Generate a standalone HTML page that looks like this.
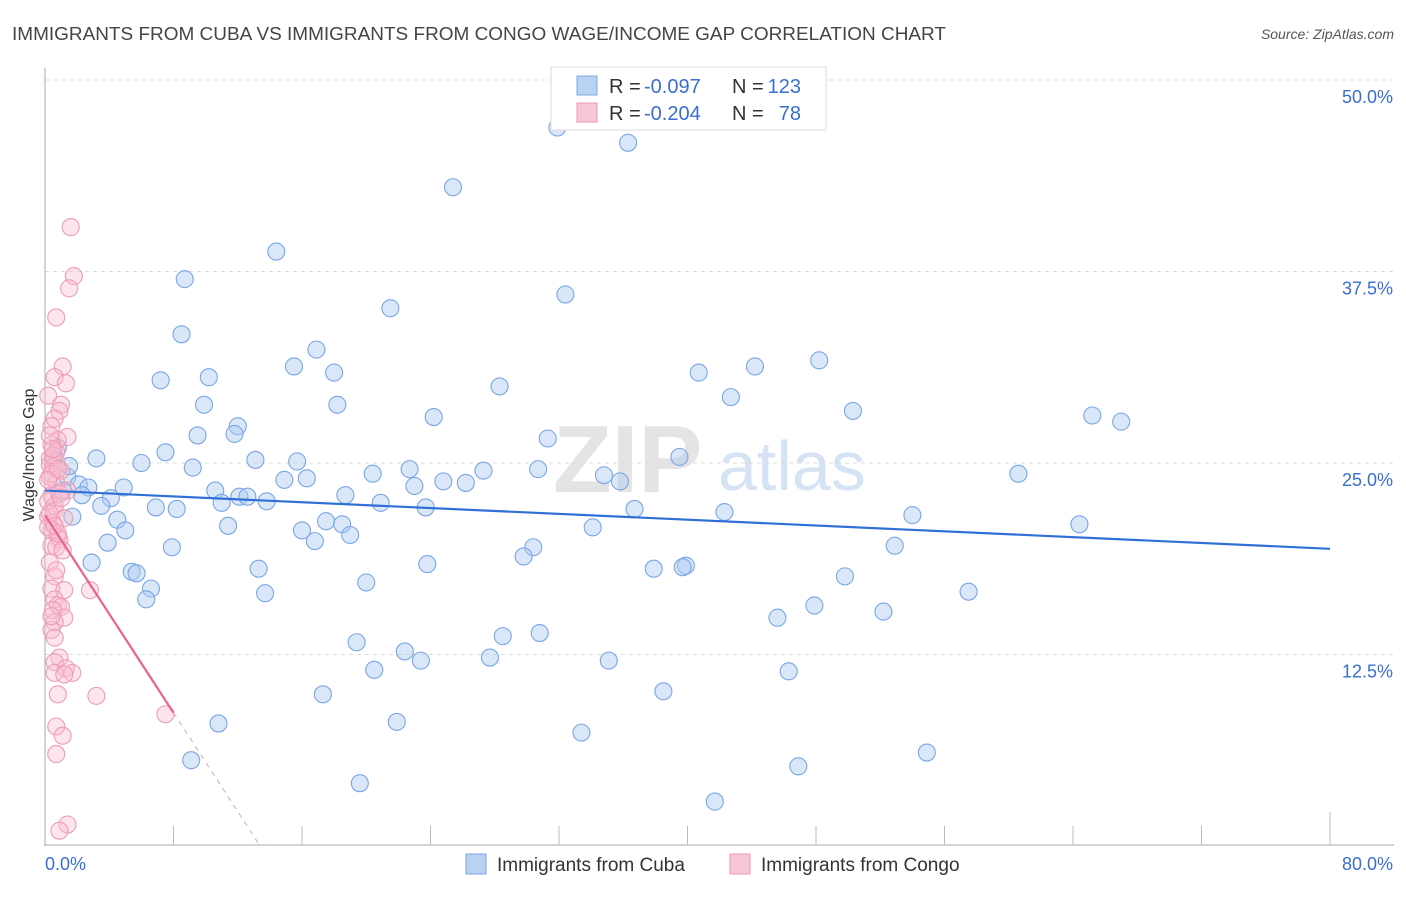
<!DOCTYPE html>
<html><head><meta charset="utf-8"><style>
body{margin:0;background:#fff;font-family:"Liberation Sans",sans-serif}
svg text{font-family:"Liberation Sans",sans-serif}
</style></head><body>
<svg id="c" width="1406" height="892" xmlns="http://www.w3.org/2000/svg">
<text x="12" y="40" font-size="18" fill="#444" textLength="934" lengthAdjust="spacingAndGlyphs">IMMIGRANTS FROM CUBA VS IMMIGRANTS FROM CONGO WAGE/INCOME GAP CORRELATION CHART</text>
<text x="1394" y="39" font-size="14" fill="#555" font-style="italic" text-anchor="end">Source: ZipAtlas.com</text>
<g>
<text x="553" y="492" font-size="96" fill="#e4e4e4" font-family="Liberation Serif" font-weight="bold">ZIP</text>
<text x="718" y="490" font-size="70" fill="#d6e3f5">atlas</text>
</g>
<g id="grid"></g>
<g id="axes"></g>
<g id="pts"></g>
<g id="trend"></g>
<text transform="translate(34,455) rotate(-90)" font-size="16" fill="#333" text-anchor="middle">Wage/Income Gap</text>
<g>
<rect x="551" y="67" width="275" height="63" fill="#fff" stroke="#ddd"/>
<rect x="577" y="76" width="20" height="19" fill="#b8d2f3" stroke="#7ea8e4"/>
<rect x="577" y="103" width="20" height="19" fill="#f8c6d6" stroke="#ea9ab4"/>
<text x="609" y="93" font-size="20" fill="#333">R =</text>
<text x="644" y="93" font-size="20" fill="#3a6fd0">-0.097</text>
<text x="732" y="93" font-size="20" fill="#333">N =</text>
<text x="801" y="93" font-size="20" fill="#3a6fd0" text-anchor="end">123</text>
<text x="609" y="120" font-size="20" fill="#333">R =</text>
<text x="644" y="120" font-size="20" fill="#3a6fd0">-0.204</text>
<text x="732" y="120" font-size="20" fill="#333">N =</text>
<text x="801" y="120" font-size="20" fill="#3a6fd0" text-anchor="end">78</text>
</g>
<g>
<rect x="466" y="854" width="20" height="20" fill="#b8d2f3" stroke="#7ea8e4"/>
<text x="497" y="871" font-size="19" fill="#333">Immigrants from Cuba</text>
<rect x="730" y="854" width="20" height="20" fill="#f8c6d6" stroke="#ea9ab4"/>
<text x="761" y="871" font-size="19" fill="#333">Immigrants from Congo</text>
</g>
</svg>
<script>
const yTicks=[12.5,25,37.5,50];
const yTickLabels=["12.5%","25.0%","37.5%","50.0%"];
const xTickLabels=["0.0%","80.0%"];
const cubaX=[31.9,36.3,25.4,14.4,8.7,32.4,21.5,8.5,16.9,15.5,48.2,44.2,40.7,18.0,10.2,7.2,28.3,42.7,9.9,18.2,50.3,24.2,65.2,67.0,12.0,11.8,9.5,31.3,7.5,3.2,13.1,39.5,6.0,15.7,9.2,22.7,30.7,27.3,20.4,60.6,34.8,14.9,16.3,1.4,35.8,24.8,26.2,23.0,2.1,2.7,4.9,10.6,1.1,2.3,18.7,12.1,12.6,4.1,11.0,13.8,20.9,3.5,23.7,6.9,8.2,36.7,42.3,54.0,1.7,4.5,17.5,18.5,11.4,64.4,16.0,34.1,5.0,19.0,16.8,3.9,52.9,30.4,7.9,29.8,2.9,23.8,13.3,37.9,39.9,39.7,5.4,5.7,49.8,20.0,6.6,57.5,13.7,6.3,47.9,52.2,45.6,28.5,30.8,19.4,22.4,23.4,35.1,27.7,20.5,46.3,38.5,17.3,21.9,10.8,33.4,54.9,9.1,46.9,19.6,41.7,0.8,1.5,0.5];
const cubaY=[46.9,45.9,43.0,38.8,37.0,36.0,35.1,33.4,32.4,31.3,31.7,31.3,30.9,30.9,30.6,30.4,30.0,29.3,28.8,28.8,28.4,28.0,28.1,27.7,27.4,26.9,26.8,26.6,25.7,25.3,25.2,25.4,25.0,25.1,24.7,24.6,24.6,24.5,24.3,24.3,24.2,23.9,24.0,24.1,23.8,23.8,23.7,23.5,23.6,23.4,23.4,23.2,23.2,22.9,22.9,22.8,22.8,22.7,22.4,22.5,22.4,22.2,22.1,22.1,22.0,22.0,21.8,21.6,21.5,21.3,21.2,21.0,20.9,21.0,20.6,20.8,20.6,20.3,19.9,19.8,19.6,19.5,19.5,18.9,18.5,18.4,18.1,18.1,18.3,18.2,17.9,17.8,17.6,17.2,16.8,16.6,16.5,16.1,15.7,15.3,14.9,13.7,13.9,13.3,12.7,12.1,12.1,12.3,11.5,11.4,10.1,9.9,8.1,8.0,7.4,6.1,5.6,5.2,4.1,2.9,26.0,24.8,25.3];
const congoX=[1.6,1.8,1.5,0.7,1.1,0.6,1.3,0.2,1.0,0.9,0.6,0.4,1.4,0.8,0.4,0.7,0.3,0.7,0.5,1.0,0.3,0.7,1.4,0.4,0.2,0.6,0.2,0.5,0.4,0.8,0.9,0.4,0.7,0.3,0.6,0.4,2.8,1.2,0.6,0.8,1.0,0.5,1.2,0.6,0.4,0.6,0.9,0.6,1.3,1.7,0.6,1.2,0.8,3.2,0.7,1.1,0.7,1.4,0.9,7.5,0.3,0.5,0.9,0.2,1.1,0.4,0.6,0.8,0.3,0.5,1.2,0.2,0.7,0.4,1.0,0.3,0.6,0.8];
const congoY=[40.4,37.2,36.4,34.5,31.3,30.6,30.2,29.4,28.8,28.4,27.9,27.4,26.7,26.5,26.2,25.7,25.3,25.1,24.7,24.5,24.1,23.7,23.2,22.9,22.5,21.9,21.5,21.1,20.6,20.2,20.0,19.6,19.5,18.5,17.6,16.8,16.7,16.7,16.1,15.7,15.6,15.4,14.9,14.6,14.1,13.6,12.3,12.0,11.6,11.3,11.3,11.2,9.9,9.8,7.8,7.2,6.0,1.4,1.0,8.6,24.9,25.5,23.0,20.8,19.3,24.3,22.2,20.4,26.8,25.9,21.4,23.9,18.0,15.0,22.7,21.7,20.9,24.6];
const cubaTrend=[23.2,19.4];
const congoTrend=[21.6,8.7];
const NS='http://www.w3.org/2000/svg';
const X0=45,X1=1330,Y0=846,Y50=80;
const sx=v=>X0+(v/80)*(X1-X0);
const sy=v=>Y0-(v/50)*(Y0-Y50);
function mk(t,a,p){const e=document.createElementNS(NS,t);for(const k in a)e.setAttribute(k,a[k]);p.appendChild(e);return e;}
const grid=document.getElementById('grid'),axes=document.getElementById('axes');
yTicks.forEach((t,i)=>{
 const l=mk('line',{x1:X0,x2:1394,y1:sy(t),y2:sy(t),stroke:'#dcdcdc','stroke-dasharray':'4,4'},grid);
 
 
 const tx=mk('text',{x:1393,y:sy(t)+23,'font-size':18,fill:'#3a6fd0','text-anchor':'end'},axes);
 tx.textContent=yTickLabels[i];
 
 
});
mk('line',{x1:X0,x2:X0,y1:68,y2:Y0,stroke:'#aaa'},axes);
mk('line',{x1:X0,x2:1394,y1:845,y2:845,stroke:'#aaa'},axes);
for(let i=1;i<=10;i++){mk('line',{x1:sx(i*8),x2:sx(i*8),y1:i==10?812:826,y2:845,stroke:'#bbb'},axes);}
const xl0=mk('text',{x:X0,y:870,'font-size':18,fill:'#3a6fd0'},axes);xl0.textContent=xTickLabels[0];


const xl1=mk('text',{x:1393,y:870,'font-size':18,fill:'#3a6fd0','text-anchor':'end'},axes);xl1.textContent=xTickLabels[1];


const pts=document.getElementById('pts');
cubaX.forEach((v,i)=>{const c=mk('circle',{cx:sx(v),cy:sy(cubaY[i]),r:8.5,fill:'rgba(170,202,242,0.45)',stroke:'#7aa6e4','stroke-width':1.1},pts);
 
 });
congoX.forEach((v,i)=>{const c=mk('circle',{cx:sx(v),cy:sy(congoY[i]),r:8.5,fill:'rgba(247,190,208,0.4)',stroke:'#ee9cb8','stroke-width':1.1},pts);
 
 });
const tr=document.getElementById('trend');
const bt=mk('line',{x1:sx(0),y1:sy(cubaTrend[0]),x2:sx(80),y2:sy(cubaTrend[1]),stroke:'#2f6fd6','stroke-width':2.2},tr);


const slope=(congoTrend[1]-congoTrend[0])/8;
const zx=-congoTrend[0]/slope;
const pt=mk('line',{x1:sx(0),y1:sy(congoTrend[0]),x2:sx(8),y2:sy(congoTrend[1]),stroke:'#e8648f','stroke-width':2.2},tr);


const pd=mk('line',{x1:sx(8),y1:sy(congoTrend[1]),x2:sx(zx),y2:sy(0),stroke:'#e8a0b8','stroke-width':1,'stroke-dasharray':'5,5'},tr);


</script>
</body></html>
